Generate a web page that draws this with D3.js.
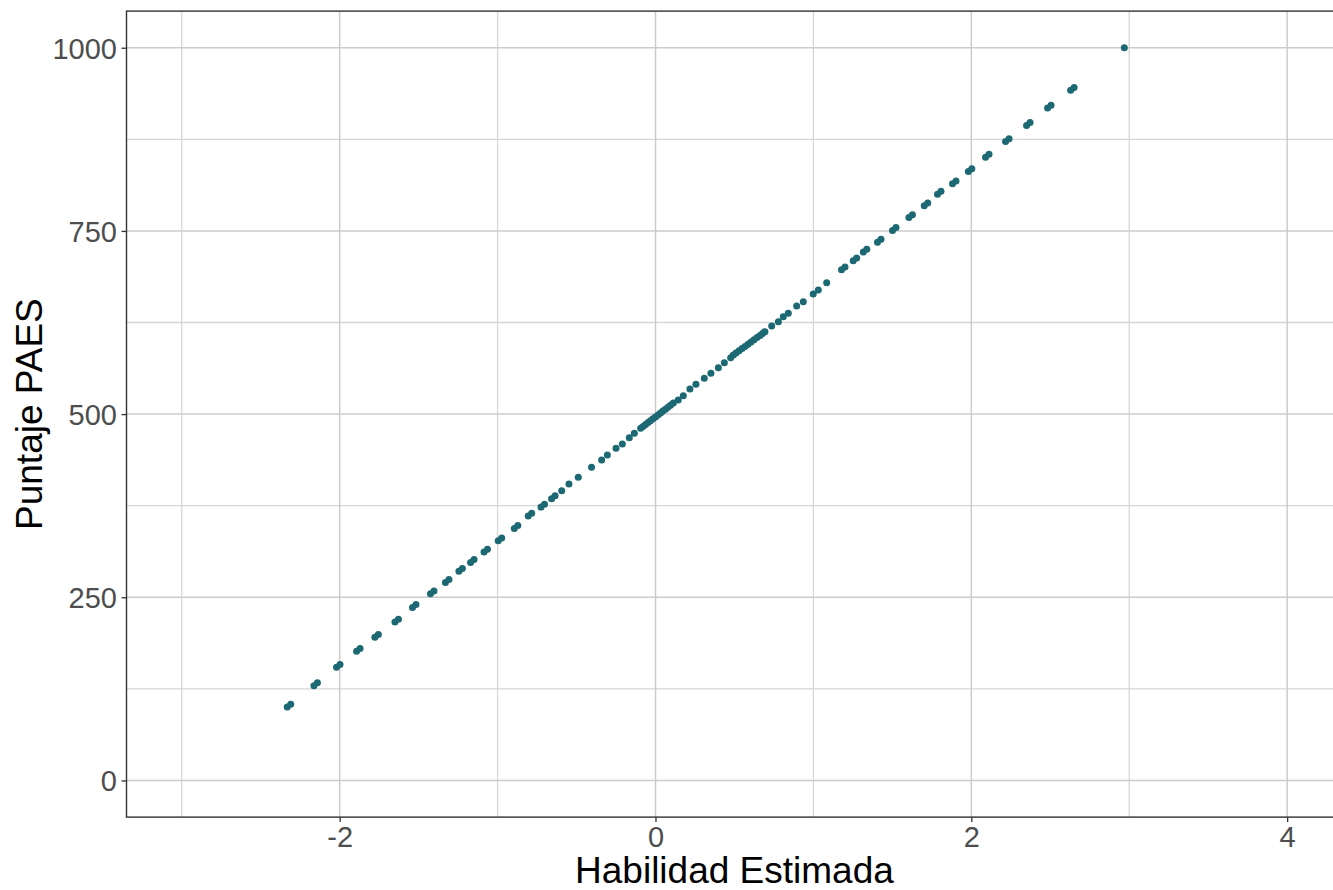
<!DOCTYPE html>
<html>
<head>
<meta charset="utf-8">
<script src="https://cdn.jsdelivr.net/npm/d3@7"></script>
<style>
  html, body { margin: 0; padding: 0; background: #ffffff; }
  svg { display: block; }
</style>
</head>
<body>
<svg id="chart" width="1333" height="890"></svg>
<script>
// ---- data ----
const habilidad = [
  -2.332, -2.310, -2.163, -2.141, -2.020, -1.998, -1.893, -1.871, -1.777, -1.755,
  -1.650, -1.628, -1.539, -1.517, -1.425, -1.403, -1.330, -1.308, -1.245, -1.223,
  -1.171, -1.149, -1.086, -1.064, -0.996, -0.974, -0.894, -0.872, -0.806, -0.784,
  -0.725, -0.703, -0.658, -0.636,
  -0.594, -0.548, -0.489, -0.405, -0.341, -0.305, -0.250, -0.210, -0.166, -0.134,
  -0.094, -0.079, -0.063, -0.047, -0.032, -0.016, 0.000, 0.016, 0.032, 0.047, 0.063, 0.079, 0.095, 0.113,
  0.144, 0.176, 0.218, 0.256, 0.309, 0.351, 0.398, 0.436, 0.476,
  0.493, 0.510, 0.529, 0.548, 0.567, 0.586, 0.605, 0.624, 0.643, 0.662, 0.678, 0.693,
  0.736, 0.778, 0.809, 0.841, 0.894, 0.936, 0.999, 1.031, 1.084,
  1.178, 1.200, 1.252, 1.274, 1.316, 1.338, 1.406, 1.428, 1.501, 1.523,
  1.605, 1.627, 1.702, 1.724, 1.786, 1.808, 1.881, 1.903, 1.981, 2.003,
  2.090, 2.112, 2.217, 2.239, 2.350, 2.372, 2.483, 2.505, 2.629, 2.651,
  2.969
];
const puntaje = [
  100.2, 104.0, 129.4, 133.2, 154.4, 158.2, 176.2, 180.0, 195.3, 199.1,
  216.2, 220.0, 236.2, 240.0, 254.9, 258.7, 270.3, 274.1, 285.4, 289.2,
  297.6, 301.4, 311.7, 315.5, 327.2, 331.0, 344.0, 347.8, 360.8, 364.6,
  373.1, 376.9, 384.6, 388.4,
  395.5, 404.6, 413.8, 427.6, 437.4, 444.2, 453.3, 459.2, 467.8, 473.8,
  480.6, 483.1, 485.7, 488.4, 491.0, 493.6, 496.2, 498.9, 501.5, 504.1, 506.7, 509.4, 512.0, 515.0,
  519.2, 525.1, 534.3, 540.7, 548.9, 555.7, 563.3, 570.1, 577.0,
  580.6, 583.4, 586.4, 589.4, 592.4, 595.4, 598.4, 601.4, 604.4, 607.4, 609.9, 612.4,
  620.2, 626.1, 632.9, 637.6, 647.5, 653.4, 663.9, 669.4, 679.3,
  697.1, 700.9, 709.3, 713.1, 721.1, 724.9, 734.7, 738.5, 750.7, 754.5,
  768.4, 772.2, 784.4, 788.2, 800.2, 804.0, 814.4, 818.2, 831.2, 835.0,
  850.7, 854.5, 872.1, 875.9, 894.0, 897.8, 917.6, 921.4, 942.1, 945.9,
  1000
];
const xMajorTicks = [-2, 0, 2, 4];
const xMinorTicks = [-3, -1, 1, 3];
const yMajorTicks = [0, 250, 500, 750, 1000];
const yMinorTicks = [125, 375, 625, 875];
const xTitle = "Habilidad Estimada";
const yTitle = "Puntaje PAES";

// ---- layout ----
const panel = { left: 126.5, right: 1342.4, top: 11.1, bottom: 817.1 };
const svg = d3.select("#chart");
const font = "'Liberation Sans', Arial, Helvetica, sans-serif";

const x = d3.scaleLinear().domain([-3.35, 4.35]).range([panel.left, panel.right]);
const y = d3.scaleLinear().domain([-50, 1050]).range([panel.bottom, panel.top]);

svg.append("rect").attr("x", 0).attr("y", 0).attr("width", 1333).attr("height", 890).attr("fill", "#ffffff");

// grid
const grid = svg.append("g");
grid.selectAll("line.vminor").data(xMinorTicks).join("line")
  .attr("x1", d => x(d)).attr("x2", d => x(d))
  .attr("y1", panel.top).attr("y2", panel.bottom)
  .attr("stroke", "#d6d6d6").attr("stroke-width", 1.3);
grid.selectAll("line.hminor").data(yMinorTicks).join("line")
  .attr("x1", panel.left).attr("x2", panel.right)
  .attr("y1", d => y(d)).attr("y2", d => y(d))
  .attr("stroke", "#d6d6d6").attr("stroke-width", 1.3);
grid.selectAll("line.vmajor").data(xMajorTicks).join("line")
  .attr("x1", d => x(d)).attr("x2", d => x(d))
  .attr("y1", panel.top).attr("y2", panel.bottom)
  .attr("stroke", "#cccccc").attr("stroke-width", 1.5);
grid.selectAll("line.hmajor").data(yMajorTicks).join("line")
  .attr("x1", panel.left).attr("x2", panel.right)
  .attr("y1", d => y(d)).attr("y2", d => y(d))
  .attr("stroke", "#cccccc").attr("stroke-width", 1.5);

// points
const pts = habilidad.map((h, i) => ({ h, p: puntaje[i] }));
svg.append("g").selectAll("circle").data(pts).join("circle")
  .attr("cx", d => x(d.h)).attr("cy", d => y(d.p))
  .attr("r", 3.5).attr("fill", "#1c6873");

// panel border
svg.append("rect")
  .attr("x", panel.left).attr("y", panel.top)
  .attr("width", panel.right - panel.left).attr("height", panel.bottom - panel.top)
  .attr("fill", "none").attr("stroke", "#333333").attr("stroke-width", 1.4);

// axes
const xAxis = d3.axisBottom(x).tickValues(xMajorTicks).tickSize(5).tickPadding(5)
  .tickFormat(d => d < 0 ? "-" + Math.abs(d) : String(d));
const gx = svg.append("g").attr("transform", `translate(0,${panel.bottom})`).call(xAxis);
gx.select(".domain").remove();
gx.selectAll(".tick line").attr("stroke", "#333333").attr("stroke-width", 1.3);
gx.selectAll(".tick text").attr("fill", "#4d4d4d").attr("font-family", font)
  .attr("font-size", 29).attr("dy", "0.70em");

const yAxis = d3.axisLeft(y).tickValues(yMajorTicks).tickSize(5).tickPadding(4.5)
  .tickFormat(d => String(d));
const gy = svg.append("g").attr("transform", `translate(${panel.left},0)`).call(yAxis);
gy.select(".domain").remove();
gy.selectAll(".tick line").attr("stroke", "#333333").attr("stroke-width", 1.3);
gy.selectAll(".tick text").attr("fill", "#4d4d4d").attr("font-family", font)
  .attr("font-size", 29).attr("dy", "0.36em");

// titles
svg.append("text").attr("x", (panel.left + panel.right) / 2).attr("y", 883)
  .attr("text-anchor", "middle").attr("font-family", font).attr("font-size", 37)
  .attr("fill", "#000000").text(xTitle);
svg.append("text").attr("transform", `translate(41.5,${(panel.top + panel.bottom) / 2}) rotate(-90)`)
  .attr("text-anchor", "middle").attr("font-family", font).attr("font-size", 37)
  .attr("fill", "#000000").text(yTitle);
</script>
</body>
</html>
